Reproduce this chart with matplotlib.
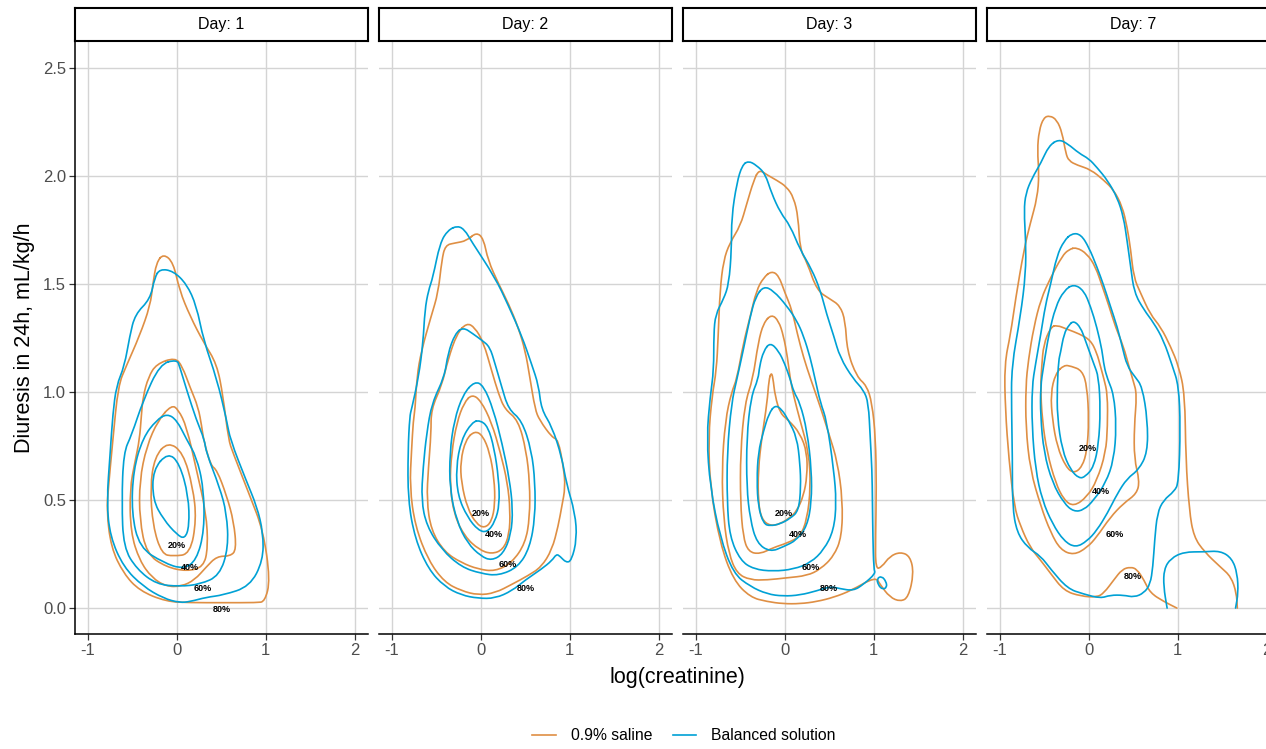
"""
Bivariate density contours of diuresis vs log(creatinine), faceted by day.
"""

import numpy as np
import matplotlib
matplotlib.use('Agg')
import matplotlib.pyplot as plt
from matplotlib.lines import Line2D
from matplotlib.path import Path
from matplotlib.patches import PathPatch

plt.rcParams['font.family'] = ['Liberation Sans', 'DejaVu Sans']

days = ['1', '2', '3', '7']
groups = ['0.9% saline', 'Balanced solution']
group_colors = ['#DF8F44', '#00A1D5']
level_names = ['20%', '40%', '60%', '80%']
x_ticks = [-1, 0, 1, 2]
y_ticks = [0.0, 0.5, 1.0, 1.5, 2.0, 2.5]

# contour outlines as (log(creatinine), diuresis) pairs
# ---- Day 1
d1_saline_80 = [(-0.15, 1.64), (-0.04, 1.60), (0.03, 1.47), (0.15, 1.35), (0.30, 1.23), (0.45, 1.13),
                (0.52, 0.98), (0.58, 0.78), (0.63, 0.72), (0.82, 0.52), (0.97, 0.36), (1.05, 0.13),
                (0.99, 0.03), (0.90, 0.025), (0.52, 0.025), (0.15, 0.025), (-0.12, 0.03), (-0.42, 0.08),
                (-0.60, 0.16), (-0.74, 0.28), (-0.79, 0.45), (-0.77, 0.56), (-0.72, 0.78), (-0.66, 1.03),
                (-0.57, 1.12), (-0.42, 1.26), (-0.30, 1.40), (-0.27, 1.50), (-0.23, 1.60)]
d1_balanced_80 = [(-0.19, 1.57), (-0.04, 1.56), (0.11, 1.50), (0.22, 1.40), (0.30, 1.24), (0.45, 1.06),
                  (0.56, 0.87), (0.60, 0.78), (0.78, 0.59), (0.90, 0.47), (0.97, 0.35), (0.97, 0.22),
                  (0.82, 0.10), (0.52, 0.06), (0.33, 0.05), (0.15, 0.03), (0.03, 0.025), (-0.15, 0.045),
                  (-0.38, 0.10), (-0.60, 0.19), (-0.75, 0.33), (-0.79, 0.49), (-0.75, 0.72), (-0.72, 0.90),
                  (-0.68, 1.03), (-0.59, 1.12), (-0.53, 1.26), (-0.47, 1.36), (-0.30, 1.43), (-0.25, 1.53)]
d1_saline_60 = [(-0.02, 1.16), (0.06, 1.12), (0.15, 1.02), (0.24, 0.93), (0.28, 0.84), (0.30, 0.78),
                (0.38, 0.66), (0.45, 0.64), (0.56, 0.52), (0.64, 0.40), (0.67, 0.27), (0.60, 0.24),
                (0.45, 0.24), (0.33, 0.19), (0.20, 0.13), (0.05, 0.10), (-0.12, 0.10), (-0.28, 0.14),
                (-0.42, 0.22), (-0.52, 0.35), (-0.53, 0.55), (-0.47, 0.68), (-0.42, 0.78), (-0.40, 0.89),
                (-0.38, 0.98), (-0.32, 1.07), (-0.23, 1.13)]
d1_balanced_60 = [(0.00, 1.15), (0.03, 1.12), (0.11, 1.01), (0.22, 0.87), (0.31, 0.78), (0.33, 0.72),
                  (0.48, 0.56), (0.56, 0.44), (0.58, 0.28), (0.48, 0.15), (0.26, 0.11), (0.03, 0.10),
                  (-0.23, 0.11), (-0.45, 0.18), (-0.60, 0.28), (-0.62, 0.49), (-0.60, 0.72), (-0.51, 0.80),
                  (-0.38, 0.96), (-0.19, 1.13)]
d1_saline_40 = [(-0.06, 0.94), (0.015, 0.92), (0.11, 0.84), (0.22, 0.64), (0.33, 0.44), (0.35, 0.28),
                (0.30, 0.19), (0.11, 0.17), (-0.12, 0.19), (-0.34, 0.25), (-0.42, 0.41), (-0.42, 0.59),
                (-0.34, 0.75), (-0.21, 0.87)]
d1_balanced_40 = [(-0.11, 0.90), (0.0, 0.87), (0.11, 0.78), (0.22, 0.70), (0.30, 0.56), (0.31, 0.36),
                  (0.22, 0.22), (0.07, 0.18), (-0.15, 0.21), (-0.42, 0.28), (-0.51, 0.44), (-0.49, 0.64),
                  (-0.38, 0.79), (-0.23, 0.87)]
d1_saline_20 = [(-0.10, 0.77), (0.07, 0.72), (0.18, 0.56), (0.22, 0.41), (0.15, 0.25), (-0.04, 0.24),
                (-0.17, 0.25), (-0.27, 0.38), (-0.30, 0.56), (-0.25, 0.70)]
d1_balanced_20 = [(-0.10, 0.72), (0.03, 0.67), (0.13, 0.52), (0.14, 0.38), (0.09, 0.32), (0.0, 0.34),
                  (-0.15, 0.41), (-0.27, 0.50), (-0.27, 0.64)]

# ---- Day 2
d2_saline_80 = [(-0.05, 1.74), (0.03, 1.71), (0.08, 1.61), (0.20, 1.50), (0.31, 1.41), (0.42, 1.30),
                (0.50, 1.19), (0.55, 1.07), (0.61, 0.92), (0.66, 0.87), (0.80, 0.79), (0.87, 0.78),
                (0.93, 0.65), (0.95, 0.56), (0.91, 0.47), (0.87, 0.38), (0.80, 0.27), (0.68, 0.19),
                (0.53, 0.15), (0.35, 0.11), (0.16, 0.07), (-0.03, 0.06), (-0.22, 0.08), (-0.41, 0.12),
                (-0.59, 0.22), (-0.74, 0.38), (-0.80, 0.56), (-0.78, 0.73), (-0.76, 0.87), (-0.74, 0.92),
                (-0.72, 1.07), (-0.67, 1.19), (-0.56, 1.35), (-0.48, 1.46), (-0.44, 1.61), (-0.40, 1.68),
                (-0.29, 1.69), (-0.16, 1.70)]
d2_balanced_80 = [(-0.26, 1.77), (-0.18, 1.75), (-0.11, 1.70), (0.16, 1.53), (0.31, 1.40), (0.46, 1.26),
                  (0.57, 1.13), (0.65, 1.03), (0.68, 0.92), (0.80, 0.84), (0.91, 0.70), (0.96, 0.58),
                  (1.06, 0.44), (1.08, 0.32), (1.02, 0.22), (0.96, 0.21), (0.89, 0.24), (0.85, 0.25),
                  (0.80, 0.22), (0.68, 0.18), (0.50, 0.13), (0.35, 0.08), (0.16, 0.045), (-0.03, 0.045),
                  (-0.22, 0.06), (-0.41, 0.10), (-0.59, 0.18), (-0.74, 0.32), (-0.82, 0.50), (-0.82, 0.73),
                  (-0.80, 0.89), (-0.78, 0.92), (-0.70, 1.07), (-0.65, 1.23), (-0.63, 1.38), (-0.59, 1.47),
                  (-0.54, 1.53), (-0.46, 1.69), (-0.37, 1.75)]
d2_saline_60 = [(-0.16, 1.32), (-0.07, 1.30), (0.03, 1.23), (0.12, 1.10), (0.20, 0.99), (0.27, 0.92),
                (0.42, 0.87), (0.51, 0.73), (0.55, 0.58), (0.55, 0.42), (0.50, 0.30), (0.35, 0.21),
                (0.16, 0.17), (-0.03, 0.18), (-0.22, 0.21), (-0.41, 0.26), (-0.56, 0.36), (-0.61, 0.50),
                (-0.59, 0.65), (-0.56, 0.81), (-0.56, 0.92), (-0.44, 1.03), (-0.37, 1.15), (-0.27, 1.27)]
d2_balanced_60 = [(-0.20, 1.30), (-0.09, 1.27), (0.01, 1.24), (0.10, 1.21), (0.16, 1.13), (0.23, 1.03),
                  (0.31, 0.92), (0.46, 0.87), (0.57, 0.73), (0.61, 0.58), (0.61, 0.42), (0.55, 0.28),
                  (0.42, 0.19), (0.20, 0.15), (0.0, 0.16), (-0.22, 0.19), (-0.44, 0.27), (-0.61, 0.38),
                  (-0.67, 0.50), (-0.65, 0.65), (-0.61, 0.81), (-0.55, 0.95), (-0.41, 1.07), (-0.37, 1.18),
                  (-0.29, 1.27)]
d2_saline_40 = [(-0.10, 0.99), (0.0, 0.96), (0.12, 0.86), (0.22, 0.72), (0.30, 0.58), (0.33, 0.45),
                (0.32, 0.34), (0.25, 0.27), (0.12, 0.25), (-0.02, 0.27), (-0.18, 0.33), (-0.30, 0.43),
                (-0.35, 0.57), (-0.33, 0.72), (-0.27, 0.86), (-0.19, 0.95)]
d2_balanced_40 = [(-0.07, 1.05), (0.03, 1.03), (0.14, 0.92), (0.24, 0.76), (0.32, 0.60), (0.36, 0.46),
                  (0.34, 0.34), (0.25, 0.25), (0.12, 0.22), (0.0, 0.24), (-0.15, 0.30), (-0.27, 0.40),
                  (-0.35, 0.55), (-0.35, 0.72), (-0.30, 0.87), (-0.20, 0.99)]
d2_saline_20 = [(-0.07, 0.82), (0.02, 0.80), (0.10, 0.72), (0.15, 0.60), (0.16, 0.48), (0.12, 0.40),
                (0.04, 0.37), (-0.05, 0.39), (-0.15, 0.46), (-0.22, 0.58), (-0.23, 0.68), (-0.17, 0.78)]
d2_balanced_20 = [(-0.01, 0.87), (0.08, 0.84), (0.15, 0.74), (0.20, 0.60), (0.21, 0.48), (0.16, 0.40),
                  (0.07, 0.35), (-0.03, 0.36), (-0.15, 0.42), (-0.26, 0.52), (-0.28, 0.65), (-0.22, 0.78),
                  (-0.10, 0.86)]

# ---- Day 3
d3_saline_80 = [(-0.29, 2.03), (-0.20, 2.005), (-0.09, 1.98), (0.02, 1.95), (0.10, 1.90), (0.15, 1.81),
                (0.17, 1.66), (0.25, 1.60), (0.36, 1.47), (0.51, 1.43), (0.62, 1.40), (0.68, 1.33),
                (0.70, 1.19), (0.81, 1.07), (0.92, 1.03), (0.98, 0.95), (1.02, 0.79), (1.03, 0.56),
                (1.02, 0.33), (1.02, 0.18), (1.09, 0.19), (1.18, 0.24), (1.30, 0.26), (1.41, 0.24),
                (1.45, 0.16), (1.39, 0.05), (1.30, 0.03), (1.18, 0.05), (1.07, 0.11), (1.02, 0.145),
                (0.74, 0.08), (0.55, 0.05), (0.36, 0.03), (0.17, 0.02), (-0.02, 0.02), (-0.20, 0.03),
                (-0.39, 0.05), (-0.58, 0.13), (-0.73, 0.30), (-0.84, 0.56), (-0.86, 0.79), (-0.82, 0.98),
                (-0.77, 1.10), (-0.75, 1.26), (-0.73, 1.47), (-0.69, 1.61), (-0.62, 1.69), (-0.50, 1.77),
                (-0.43, 1.87), (-0.35, 1.98)]
d3_balanced_80 = [(-0.41, 2.07), (-0.32, 2.05), (-0.22, 2.01), (-0.15, 1.92), (-0.05, 1.83), (0.06, 1.77),
                  (0.17, 1.66), (0.30, 1.57), (0.40, 1.47), (0.47, 1.36), (0.55, 1.26), (0.62, 1.16),
                  (0.77, 1.06), (0.885, 1.01), (0.94, 0.95), (0.96, 0.79), (0.98, 0.64), (0.985, 0.49),
                  (0.99, 0.33), (1.00, 0.18), (1.02, 0.16), (0.885, 0.11), (0.77, 0.08), (0.62, 0.09),
                  (0.51, 0.10), (0.36, 0.08), (0.17, 0.06), (-0.02, 0.055), (-0.20, 0.065), (-0.39, 0.10),
                  (-0.58, 0.16), (-0.73, 0.33), (-0.84, 0.56), (-0.88, 0.79), (-0.84, 0.98), (-0.80, 1.10),
                  (-0.80, 1.27), (-0.78, 1.36), (-0.69, 1.43), (-0.63, 1.50), (-0.60, 1.66), (-0.60, 1.81),
                  (-0.54, 1.97), (-0.48, 2.05)]
d3_balanced_80b = [(1.035, 0.137), (1.09, 0.148), (1.14, 0.122), (1.147, 0.096), (1.10, 0.086),
                   (1.05, 0.106)]
d3_saline_60 = [(-0.15, 1.56), (-0.07, 1.54), (0.0, 1.46), (0.08, 1.38), (0.14, 1.27), (0.21, 1.16),
                (0.29, 1.06), (0.40, 0.93), (0.50, 0.80), (0.59, 0.68), (0.65, 0.50), (0.64, 0.33),
                (0.55, 0.24), (0.40, 0.18), (0.25, 0.15), (0.02, 0.14), (-0.20, 0.13), (-0.39, 0.13),
                (-0.54, 0.16), (-0.63, 0.25), (-0.69, 0.41), (-0.71, 0.64), (-0.67, 0.87), (-0.60, 1.00),
                (-0.54, 1.06), (-0.47, 1.22), (-0.39, 1.35), (-0.32, 1.47), (-0.24, 1.53)]
d3_balanced_60 = [(-0.24, 1.49), (-0.13, 1.47), (0.02, 1.40), (0.135, 1.33), (0.21, 1.26), (0.285, 1.16),
                  (0.34, 1.06), (0.40, 0.95), (0.47, 0.87), (0.55, 0.64), (0.58, 0.49), (0.55, 0.36),
                  (0.44, 0.27), (0.29, 0.21), (0.10, 0.18), (-0.13, 0.17), (-0.35, 0.18), (-0.50, 0.22),
                  (-0.62, 0.33), (-0.65, 0.49), (-0.65, 0.72), (-0.60, 0.95), (-0.54, 1.06), (-0.47, 1.19),
                  (-0.39, 1.35), (-0.33, 1.44)]
d3_saline_40 = [(-0.15, 1.36), (-0.07, 1.33), (-0.015, 1.26), (0.03, 1.16), (0.06, 1.06), (0.10, 0.98),
                (0.17, 0.87), (0.27, 0.72), (0.29, 0.56), (0.25, 0.41), (0.17, 0.33), (0.02, 0.30),
                (-0.13, 0.28), (-0.28, 0.25), (-0.41, 0.26), (-0.47, 0.33), (-0.50, 0.49), (-0.50, 0.72),
                (-0.45, 0.95), (-0.36, 1.06), (-0.30, 1.23), (-0.24, 1.32)]
d3_balanced_40 = [(-0.165, 1.23), (-0.07, 1.19), (0.0, 1.13), (0.06, 1.06), (0.10, 1.00), (0.17, 0.95),
                  (0.25, 0.82), (0.30, 0.64), (0.30, 0.49), (0.25, 0.38), (0.135, 0.315), (-0.015, 0.284),
                  (-0.165, 0.26), (-0.315, 0.30), (-0.39, 0.41), (-0.43, 0.56), (-0.43, 0.79), (-0.38, 0.98),
                  (-0.30, 1.06), (-0.285, 1.12), (-0.24, 1.19)]
d3_saline_20 = [(-0.155, 1.09), (-0.135, 1.07), (-0.11, 0.98), (-0.05, 0.90), (0.04, 0.87), (0.17, 0.81),
                (0.25, 0.72), (0.25, 0.61), (0.21, 0.52), (0.135, 0.45), (0.06, 0.42), (-0.05, 0.39),
                (-0.165, 0.38), (-0.26, 0.41), (-0.30, 0.49), (-0.30, 0.64), (-0.26, 0.79), (-0.20, 0.95),
                (-0.18, 1.055)]
d3_balanced_20 = [(-0.11, 0.94), (-0.035, 0.92), (0.04, 0.87), (0.135, 0.79), (0.17, 0.67), (0.18, 0.56),
                  (0.155, 0.45), (0.06, 0.415), (-0.05, 0.39), (-0.165, 0.38), (-0.24, 0.39), (-0.30, 0.47),
                  (-0.315, 0.59), (-0.30, 0.72), (-0.24, 0.82), (-0.18, 0.90)]

# ---- Day 7
d7_saline_80 = [(0.99, 0.0), (0.845, 0.03), (0.69, 0.07), (0.62, 0.13), (0.54, 0.18), (0.47, 0.19),
                (0.375, 0.18), (0.28, 0.13), (0.17, 0.07), (0.09, 0.05), (-0.09, 0.055), (-0.28, 0.08),
                (-0.43, 0.16), (-0.54, 0.22), (-0.66, 0.28), (-0.77, 0.38), (-0.84, 0.47), (-0.90, 0.69),
                (-0.94, 0.92), (-0.95, 1.13), (-0.88, 1.27), (-0.825, 1.43), (-0.73, 1.66), (-0.66, 1.78),
                (-0.58, 1.90), (-0.56, 2.01), (-0.58, 2.12), (-0.56, 2.21), (-0.51, 2.27), (-0.44, 2.28),
                (-0.36, 2.26), (-0.30, 2.20), (-0.26, 2.105), (-0.225, 2.07), (-0.13, 2.05), (0.02, 2.03),
                (0.17, 1.98), (0.28, 1.935), (0.375, 1.86), (0.43, 1.765), (0.47, 1.66), (0.505, 1.53),
                (0.58, 1.46), (0.69, 1.36), (0.81, 1.30), (0.92, 1.21), (1.01, 1.12), (1.08, 0.99),
                (1.09, 0.69), (1.13, 0.45), (1.18, 0.33), (1.30, 0.26), (1.48, 0.19), (1.60, 0.145),
                (1.66, 0.07), (1.67, 0.0)]
d7_balanced_80 = [(-0.34, 2.17), (-0.24, 2.15), (-0.11, 2.105), (0.0, 2.08), (0.09, 2.04), (0.21, 1.98),
                  (0.32, 1.90), (0.39, 1.81), (0.43, 1.70), (0.47, 1.58), (0.51, 1.46), (0.62, 1.38),
                  (0.73, 1.32), (0.84, 1.24), (0.94, 1.12), (1.01, 1.03), (1.03, 0.84), (1.01, 0.58),
                  (0.96, 0.54), (0.84, 0.50), (0.77, 0.44), (0.74, 0.315), (0.72, 0.19), (0.69, 0.11),
                  (0.62, 0.07), (0.51, 0.05), (0.39, 0.06), (0.24, 0.06), (0.13, 0.045), (-0.06, 0.065),
                  (-0.24, 0.09), (-0.43, 0.18), (-0.54, 0.24), (-0.69, 0.28), (-0.81, 0.35), (-0.86, 0.47),
                  (-0.86, 0.69), (-0.87, 0.92), (-0.87, 1.12), (-0.77, 1.35), (-0.71, 1.55), (-0.71, 1.70),
                  (-0.73, 1.84), (-0.71, 1.92), (-0.64, 1.99), (-0.54, 2.06), (-0.45, 2.14)]
d7_balanced_80b = [(0.88, 0.0), (0.84, 0.10), (0.845, 0.18), (0.92, 0.23), (1.07, 0.26), (1.29, 0.26),
                   (1.48, 0.265), (1.61, 0.23), (1.67, 0.16), (1.68, 0.07), (1.65, 0.0)]
d7_saline_60 = [(-0.14, 1.67), (-0.02, 1.64), (0.075, 1.58), (0.15, 1.49), (0.225, 1.40), (0.30, 1.30),
                (0.39, 1.21), (0.45, 1.12), (0.50, 1.05), (0.54, 0.99), (0.51, 0.84), (0.51, 0.69),
                (0.57, 0.59), (0.54, 0.53), (0.39, 0.485), (0.24, 0.42), (0.09, 0.33), (-0.02, 0.28),
                (-0.17, 0.245), (-0.32, 0.27), (-0.43, 0.35), (-0.54, 0.47), (-0.66, 0.64), (-0.71, 0.84),
                (-0.71, 1.03), (-0.68, 1.15), (-0.62, 1.30), (-0.54, 1.43), (-0.43, 1.53), (-0.30, 1.63),
                (-0.225, 1.66)]
d7_balanced_60 = [(-0.19, 1.735), (-0.09, 1.73), (0.0, 1.67), (0.09, 1.58), (0.17, 1.49), (0.24, 1.40),
                  (0.32, 1.30), (0.375, 1.21), (0.43, 1.12), (0.52, 1.07), (0.60, 1.025), (0.66, 0.87),
                  (0.66, 0.72), (0.56, 0.64), (0.43, 0.60), (0.32, 0.53), (0.21, 0.44), (0.09, 0.36),
                  (-0.02, 0.31), (-0.15, 0.28), (-0.28, 0.31), (-0.41, 0.39), (-0.525, 0.50), (-0.60, 0.64),
                  (-0.64, 0.84), (-0.64, 1.025), (-0.60, 1.13), (-0.54, 1.27), (-0.49, 1.40), (-0.43, 1.50),
                  (-0.36, 1.63), (-0.28, 1.70)]
d7_saline_40 = [(-0.36, 1.31), (-0.24, 1.29), (-0.11, 1.27), (0.02, 1.24), (0.09, 1.18), (0.13, 1.12),
                (0.17, 1.06), (0.21, 0.99), (0.21, 0.84), (0.19, 0.72), (0.09, 0.59), (-0.02, 0.515),
                (-0.17, 0.47), (-0.28, 0.50), (-0.375, 0.58), (-0.47, 0.72), (-0.525, 0.87), (-0.544, 1.025),
                (-0.53, 1.12), (-0.51, 1.22), (-0.43, 1.30)]
d7_balanced_40 = [(-0.17, 1.50), (-0.056, 1.47), (0.02, 1.395), (0.09, 1.30), (0.15, 1.19), (0.17, 1.12),
                  (0.21, 1.06), (0.28, 0.99), (0.31, 0.84), (0.28, 0.685), (0.19, 0.58), (0.056, 0.50),
                  (-0.056, 0.454), (-0.17, 0.446), (-0.28, 0.485), (-0.41, 0.58), (-0.506, 0.72),
                  (-0.544, 0.89), (-0.544, 1.025), (-0.51, 1.12), (-0.45, 1.27), (-0.375, 1.395), (-0.28, 1.47)]
d7_saline_20 = [(-0.28, 1.125), (-0.20, 1.12), (-0.075, 1.10), (-0.02, 1.025), (0.0, 0.87), (-0.02, 0.73),
                (-0.075, 0.654), (-0.17, 0.623), (-0.26, 0.654), (-0.356, 0.747), (-0.41, 0.87),
                (-0.43, 0.994), (-0.375, 1.086)]
d7_balanced_20 = [(-0.17, 1.33), (-0.094, 1.30), (-0.04, 1.24), (0.056, 1.13), (0.11, 1.07), (0.13, 0.917),
                  (0.11, 0.76), (0.056, 0.654), (-0.04, 0.608), (-0.11, 0.60), (-0.206, 0.639), (-0.30, 0.73),
                  (-0.356, 0.886), (-0.356, 1.025), (-0.34, 1.148), (-0.32, 1.18), (-0.28, 1.27), (-0.225, 1.31)]

# where the 20/40/60/80% labels sit in each panel
label_x = {'1': [0.00, 0.15, 0.29, 0.51], '2': [0.00, 0.15, 0.30, 0.50],
           '3': [-0.01, 0.15, 0.29, 0.49], '7': [-0.01, 0.14, 0.29, 0.49]}
label_y = {'1': [0.29, 0.19, 0.09, -0.005], '2': [0.44, 0.34, 0.20, 0.09],
           '3': [0.44, 0.34, 0.19, 0.09], '7': [0.74, 0.54, 0.34, 0.145]}

saline_by_day = {
    '1': [d1_saline_20, d1_saline_40, d1_saline_60, d1_saline_80],
    '2': [d2_saline_20, d2_saline_40, d2_saline_60, d2_saline_80],
    '3': [d3_saline_20, d3_saline_40, d3_saline_60, d3_saline_80],
    '7': [d7_saline_20, d7_saline_40, d7_saline_60, d7_saline_80],
}
balanced_by_day = {
    '1': [d1_balanced_20, d1_balanced_40, d1_balanced_60, d1_balanced_80],
    '2': [d2_balanced_20, d2_balanced_40, d2_balanced_60, d2_balanced_80],
    '3': [d3_balanced_20, d3_balanced_40, d3_balanced_60, d3_balanced_80, d3_balanced_80b],
    '7': [d7_balanced_20, d7_balanced_40, d7_balanced_60, d7_balanced_80, d7_balanced_80b],
}
# contours cut by the edge of the density grid stay open
open_curves = [d7_saline_80, d7_balanced_80b]

# layout in pixels
W, H = 1266, 749
panel_left = [75, 379, 683, 987]
panel_w = 293
panel_top, panel_bottom = 41, 634
strip_top = 8
GRID = '#D4D4D4'


def contour_path(pts, closed):
    """Rounded path through the traced vertices (quadratic Bezier corners)."""
    p = np.array(pts, dtype=float)
    if closed:
        mids = (p + np.roll(p, -1, axis=0)) / 2
        verts = [mids[-1]]
        codes = [Path.MOVETO]
        for k in range(len(p)):
            verts += [p[k], mids[k]]
            codes += [Path.CURVE3, Path.CURVE3]
    else:
        mids = (p[:-1] + p[1:]) / 2
        verts = [p[0], mids[0]]
        codes = [Path.MOVETO, Path.LINETO]
        for k in range(1, len(p) - 1):
            verts += [p[k], mids[k]]
            codes += [Path.CURVE3, Path.CURVE3]
        verts.append(p[-1])
        codes.append(Path.LINETO)
    return Path(np.array(verts), codes)


def draw_contour(ax, pts, color):
    closed = not any(pts is c for c in open_curves)
    patch = PathPatch(contour_path(pts, closed), facecolor='none', edgecolor=color,
                      lw=1.2, joinstyle='round', capstyle='round', zorder=3)
    ax.add_patch(patch)


def main():
    fig = plt.figure(figsize=(W / 100, H / 100), dpi=100)

    for i, day in enumerate(days):
        left = panel_left[i] / W
        ax = fig.add_axes([left, (H - panel_bottom) / H, panel_w / W,
                           (panel_bottom - panel_top) / H])
        ax.set_xlim(-1.146, 2.15)
        ax.set_ylim(-0.12, 2.625)
        ax.set_xticks(x_ticks)
        ax.set_yticks(y_ticks)
        ax.grid(True, color=GRID, lw=1.0)
        ax.set_axisbelow(True)
        for s in ['top', 'right']:
            ax.spines[s].set_visible(False)
        ax.spines['bottom'].set_color('black')
        ax.spines['bottom'].set_linewidth(1.1)
        ax.tick_params(axis='both', length=4, width=0.9, color='#333333',
                       labelsize=12, labelcolor='#4D4D4D', pad=2.5)
        ax.set_xticklabels(['-1', '0', '1', '2'])
        if i == 0:
            ax.spines['left'].set_color('black')
            ax.spines['left'].set_linewidth(1.1)
            ax.set_yticklabels(['0.0', '0.5', '1.0', '1.5', '2.0', '2.5'])
        else:
            ax.spines['left'].set_visible(False)
            ax.tick_params(axis='y', length=0, labelleft=False)

        for pts in saline_by_day[day]:
            draw_contour(ax, pts, group_colors[0])
        for pts in balanced_by_day[day]:
            draw_contour(ax, pts, group_colors[1])

        for lab, lx, ly in zip(level_names, label_x[day], label_y[day]):
            ax.text(lx, ly, lab, fontsize=6.5, fontweight='bold', ha='center',
                    va='center', color='black', zorder=4)

        # facet strip
        sax = fig.add_axes([left, (H - panel_top) / H, panel_w / W,
                            (panel_top - strip_top) / H])
        sax.set_xticks([])
        sax.set_yticks([])
        for s in sax.spines.values():
            s.set_color('black')
            s.set_linewidth(1.5)
        sax.text(0.5, 0.5, f'Day: {day}', ha='center', va='center',
                 fontsize=11.5, color='black', transform=sax.transAxes)

    fig.text(25 / W, (H - 338) / H, 'Diuresis in 24h, mL/kg/h', rotation=90,
             ha='center', va='center', fontsize=15.5, color='black')
    fig.text(677 / W, (H - 677) / H, 'log(creatinine)', ha='center',
             va='center', fontsize=15.5, color='black')

    handles = [Line2D([0], [0], color=c, lw=1.2) for c in group_colors]
    fig.legend(handles, groups, loc='center', bbox_to_anchor=(684 / W, (H - 736) / H),
               ncol=2, frameon=False, fontsize=11.3, handlelength=1.5,
               handletextpad=0.95, columnspacing=1.3)

    fig.savefig('out.png', dpi=100)
    plt.close(fig)


if __name__ == '__main__':
    main()
